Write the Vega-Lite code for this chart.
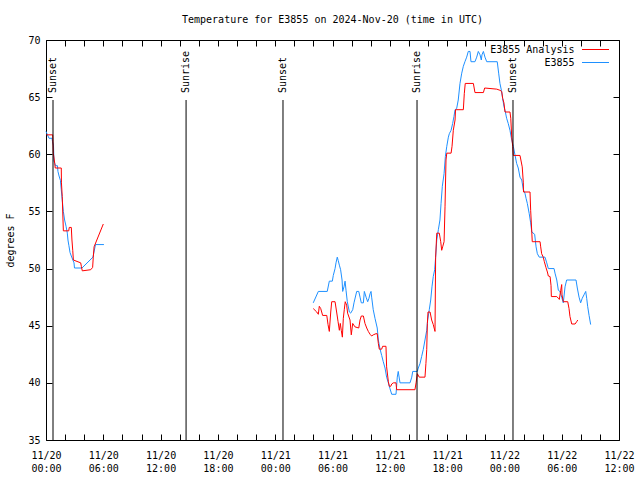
{
  "$schema": "https://vega.github.io/schema/vega-lite/v6.json",
  "width": 573,
  "height": 400,
  "autosize": {"type": "none"},
  "padding": {"left": 46, "top": 40, "right": 21, "bottom": 40},
  "background": "white",
  "title": {"text": "Temperature for E3855 on 2024-Nov-20 (time in UTC)", "font": "DejaVu Sans Mono", "fontSize": 10, "fontWeight": "normal", "color": "black", "offset": 10},
  "config": {
    "view": {"stroke": "black", "strokeWidth": 1},
    "axis": {"domain": false, "grid": false, "tickColor": "black", "tickSize": -6, "tickWidth": 1, "labelFont": "DejaVu Sans Mono", "labelFontSize": 10, "labelColor": "black", "titleFont": "DejaVu Sans Mono", "titleFontSize": 10, "titleFontWeight": "normal", "titleColor": "black"},
    "legend": {"title": null, "symbolType": "M-2.7,0H2.7", "symbolSize": 100, "symbolStrokeWidth": 1, "labelFont": "DejaVu Sans Mono", "labelFontSize": 10, "labelColor": "black", "labelAlign": "right", "labelOffset": -26.5, "rowPadding": 2, "padding": 0}
  },
  "datasets": {
    "temps": [
      {"series": "E3855", "seg": "a", "time": "2024-11-20T00:00Z", "temp": 62.0},
      {"series": "E3855", "seg": "a", "time": "2024-11-20T00:09Z", "temp": 61.7},
      {"series": "E3855", "seg": "a", "time": "2024-11-20T00:19Z", "temp": 61.4},
      {"series": "E3855", "seg": "a", "time": "2024-11-20T00:38Z", "temp": 61.4},
      {"series": "E3855", "seg": "a", "time": "2024-11-20T00:41Z", "temp": 61.1},
      {"series": "E3855", "seg": "a", "time": "2024-11-20T00:47Z", "temp": 60.8},
      {"series": "E3855", "seg": "a", "time": "2024-11-20T00:50Z", "temp": 59.4},
      {"series": "E3855", "seg": "a", "time": "2024-11-20T01:00Z", "temp": 59.0},
      {"series": "E3855", "seg": "a", "time": "2024-11-20T01:12Z", "temp": 59.0},
      {"series": "E3855", "seg": "a", "time": "2024-11-20T01:15Z", "temp": 58.5},
      {"series": "E3855", "seg": "a", "time": "2024-11-20T01:22Z", "temp": 58.1},
      {"series": "E3855", "seg": "a", "time": "2024-11-20T01:31Z", "temp": 57.7},
      {"series": "E3855", "seg": "a", "time": "2024-11-20T01:36Z", "temp": 56.9},
      {"series": "E3855", "seg": "a", "time": "2024-11-20T01:42Z", "temp": 56.0},
      {"series": "E3855", "seg": "a", "time": "2024-11-20T01:49Z", "temp": 55.0},
      {"series": "E3855", "seg": "a", "time": "2024-11-20T01:57Z", "temp": 54.25},
      {"series": "E3855", "seg": "a", "time": "2024-11-20T02:06Z", "temp": 53.7},
      {"series": "E3855", "seg": "a", "time": "2024-11-20T02:14Z", "temp": 53.1},
      {"series": "E3855", "seg": "a", "time": "2024-11-20T02:18Z", "temp": 52.5},
      {"series": "E3855", "seg": "a", "time": "2024-11-20T02:24Z", "temp": 52.0},
      {"series": "E3855", "seg": "a", "time": "2024-11-20T02:31Z", "temp": 51.4},
      {"series": "E3855", "seg": "a", "time": "2024-11-20T02:39Z", "temp": 51.1},
      {"series": "E3855", "seg": "a", "time": "2024-11-20T02:56Z", "temp": 50.5},
      {"series": "E3855", "seg": "a", "time": "2024-11-20T02:59Z", "temp": 50.05},
      {"series": "E3855", "seg": "a", "time": "2024-11-20T03:46Z", "temp": 50.05},
      {"series": "E3855", "seg": "a", "time": "2024-11-20T04:55Z", "temp": 51.0},
      {"series": "E3855", "seg": "a", "time": "2024-11-20T05:11Z", "temp": 52.1},
      {"series": "E3855", "seg": "a", "time": "2024-11-20T06:04Z", "temp": 52.1},

      {"series": "E3855 Analysis", "seg": "a", "time": "2024-11-20T00:03Z", "temp": 61.7},
      {"series": "E3855 Analysis", "seg": "a", "time": "2024-11-20T00:42Z", "temp": 61.7},
      {"series": "E3855 Analysis", "seg": "a", "time": "2024-11-20T00:43Z", "temp": 61.25},
      {"series": "E3855 Analysis", "seg": "a", "time": "2024-11-20T00:46Z", "temp": 60.1},
      {"series": "E3855 Analysis", "seg": "a", "time": "2024-11-20T00:55Z", "temp": 59.2},
      {"series": "E3855 Analysis", "seg": "a", "time": "2024-11-20T00:58Z", "temp": 58.8},
      {"series": "E3855 Analysis", "seg": "a", "time": "2024-11-20T01:36Z", "temp": 58.8},
      {"series": "E3855 Analysis", "seg": "a", "time": "2024-11-20T01:37Z", "temp": 57.5},
      {"series": "E3855 Analysis", "seg": "a", "time": "2024-11-20T01:42Z", "temp": 56.3},
      {"series": "E3855 Analysis", "seg": "a", "time": "2024-11-20T01:49Z", "temp": 53.3},
      {"series": "E3855 Analysis", "seg": "a", "time": "2024-11-20T02:23Z", "temp": 53.3},
      {"series": "E3855 Analysis", "seg": "a", "time": "2024-11-20T02:26Z", "temp": 53.6},
      {"series": "E3855 Analysis", "seg": "a", "time": "2024-11-20T02:39Z", "temp": 53.6},
      {"series": "E3855 Analysis", "seg": "a", "time": "2024-11-20T02:43Z", "temp": 52.5},
      {"series": "E3855 Analysis", "seg": "a", "time": "2024-11-20T02:48Z", "temp": 51.6},
      {"series": "E3855 Analysis", "seg": "a", "time": "2024-11-20T02:52Z", "temp": 50.75},
      {"series": "E3855 Analysis", "seg": "a", "time": "2024-11-20T03:38Z", "temp": 50.5},
      {"series": "E3855 Analysis", "seg": "a", "time": "2024-11-20T03:42Z", "temp": 50.2},
      {"series": "E3855 Analysis", "seg": "a", "time": "2024-11-20T03:48Z", "temp": 49.8},
      {"series": "E3855 Analysis", "seg": "a", "time": "2024-11-20T04:41Z", "temp": 49.9},
      {"series": "E3855 Analysis", "seg": "a", "time": "2024-11-20T04:53Z", "temp": 50.1},
      {"series": "E3855 Analysis", "seg": "a", "time": "2024-11-20T04:57Z", "temp": 51.0},
      {"series": "E3855 Analysis", "seg": "a", "time": "2024-11-20T05:02Z", "temp": 51.9},
      {"series": "E3855 Analysis", "seg": "a", "time": "2024-11-20T06:00Z", "temp": 53.9},

      {"series": "E3855", "seg": "b", "time": "2024-11-21T03:59Z", "temp": 47.0},
      {"series": "E3855", "seg": "b", "time": "2024-11-21T04:31Z", "temp": 48.0},
      {"series": "E3855", "seg": "b", "time": "2024-11-21T05:27Z", "temp": 48.0},
      {"series": "E3855", "seg": "b", "time": "2024-11-21T05:40Z", "temp": 48.9},
      {"series": "E3855", "seg": "b", "time": "2024-11-21T05:59Z", "temp": 48.9},
      {"series": "E3855", "seg": "b", "time": "2024-11-21T06:05Z", "temp": 49.4},
      {"series": "E3855", "seg": "b", "time": "2024-11-21T06:16Z", "temp": 50.0},
      {"series": "E3855", "seg": "b", "time": "2024-11-21T06:22Z", "temp": 50.5},
      {"series": "E3855", "seg": "b", "time": "2024-11-21T06:30Z", "temp": 51.0},
      {"series": "E3855", "seg": "b", "time": "2024-11-21T06:36Z", "temp": 50.7},
      {"series": "E3855", "seg": "b", "time": "2024-11-21T06:43Z", "temp": 50.3},
      {"series": "E3855", "seg": "b", "time": "2024-11-21T06:51Z", "temp": 49.9},
      {"series": "E3855", "seg": "b", "time": "2024-11-21T07:00Z", "temp": 49.0},
      {"series": "E3855", "seg": "b", "time": "2024-11-21T07:04Z", "temp": 48.0},
      {"series": "E3855", "seg": "b", "time": "2024-11-21T07:12Z", "temp": 48.4},
      {"series": "E3855", "seg": "b", "time": "2024-11-21T07:19Z", "temp": 48.9},
      {"series": "E3855", "seg": "b", "time": "2024-11-21T07:25Z", "temp": 48.1},
      {"series": "E3855", "seg": "b", "time": "2024-11-21T07:33Z", "temp": 47.1},
      {"series": "E3855", "seg": "b", "time": "2024-11-21T07:46Z", "temp": 46.2},
      {"series": "E3855", "seg": "b", "time": "2024-11-21T07:54Z", "temp": 46.1},
      {"series": "E3855", "seg": "b", "time": "2024-11-21T08:07Z", "temp": 46.4},
      {"series": "E3855", "seg": "b", "time": "2024-11-21T08:15Z", "temp": 47.0},
      {"series": "E3855", "seg": "b", "time": "2024-11-21T08:32Z", "temp": 48.0},
      {"series": "E3855", "seg": "b", "time": "2024-11-21T08:45Z", "temp": 48.0},
      {"series": "E3855", "seg": "b", "time": "2024-11-21T08:53Z", "temp": 47.5},
      {"series": "E3855", "seg": "b", "time": "2024-11-21T09:01Z", "temp": 47.0},
      {"series": "E3855", "seg": "b", "time": "2024-11-21T09:14Z", "temp": 47.0},
      {"series": "E3855", "seg": "b", "time": "2024-11-21T09:20Z", "temp": 48.0},
      {"series": "E3855", "seg": "b", "time": "2024-11-21T09:31Z", "temp": 47.5},
      {"series": "E3855", "seg": "b", "time": "2024-11-21T09:41Z", "temp": 47.1},
      {"series": "E3855", "seg": "b", "time": "2024-11-21T09:49Z", "temp": 47.4},
      {"series": "E3855", "seg": "b", "time": "2024-11-21T09:56Z", "temp": 47.8},
      {"series": "E3855", "seg": "b", "time": "2024-11-21T10:02Z", "temp": 48.0},
      {"series": "E3855", "seg": "b", "time": "2024-11-21T10:06Z", "temp": 47.5},
      {"series": "E3855", "seg": "b", "time": "2024-11-21T10:16Z", "temp": 46.4},
      {"series": "E3855", "seg": "b", "time": "2024-11-21T10:27Z", "temp": 45.65},
      {"series": "E3855", "seg": "b", "time": "2024-11-21T10:41Z", "temp": 44.8},
      {"series": "E3855", "seg": "b", "time": "2024-11-21T10:48Z", "temp": 43.75},
      {"series": "E3855", "seg": "b", "time": "2024-11-21T10:58Z", "temp": 43.0},
      {"series": "E3855", "seg": "b", "time": "2024-11-21T11:09Z", "temp": 42.4},
      {"series": "E3855", "seg": "b", "time": "2024-11-21T11:19Z", "temp": 41.85},
      {"series": "E3855", "seg": "b", "time": "2024-11-21T11:30Z", "temp": 41.3},
      {"series": "E3855", "seg": "b", "time": "2024-11-21T11:40Z", "temp": 40.5},
      {"series": "E3855", "seg": "b", "time": "2024-11-21T11:51Z", "temp": 40.0},
      {"series": "E3855", "seg": "b", "time": "2024-11-21T12:01Z", "temp": 39.5},
      {"series": "E3855", "seg": "b", "time": "2024-11-21T12:12Z", "temp": 39.0},
      {"series": "E3855", "seg": "b", "time": "2024-11-21T12:39Z", "temp": 39.0},
      {"series": "E3855", "seg": "b", "time": "2024-11-21T12:47Z", "temp": 40.5},
      {"series": "E3855", "seg": "b", "time": "2024-11-21T12:53Z", "temp": 41.0},
      {"series": "E3855", "seg": "b", "time": "2024-11-21T13:04Z", "temp": 40.0},
      {"series": "E3855", "seg": "b", "time": "2024-11-21T14:07Z", "temp": 40.0},
      {"series": "E3855", "seg": "b", "time": "2024-11-21T14:18Z", "temp": 40.5},
      {"series": "E3855", "seg": "b", "time": "2024-11-21T14:24Z", "temp": 41.0},
      {"series": "E3855", "seg": "b", "time": "2024-11-21T14:53Z", "temp": 41.0},
      {"series": "E3855", "seg": "b", "time": "2024-11-21T14:59Z", "temp": 41.3},
      {"series": "E3855", "seg": "b", "time": "2024-11-21T15:10Z", "temp": 41.7},
      {"series": "E3855", "seg": "b", "time": "2024-11-21T15:20Z", "temp": 42.3},
      {"series": "E3855", "seg": "b", "time": "2024-11-21T15:30Z", "temp": 42.9},
      {"series": "E3855", "seg": "b", "time": "2024-11-21T15:41Z", "temp": 43.75},
      {"series": "E3855", "seg": "b", "time": "2024-11-21T15:52Z", "temp": 44.6},
      {"series": "E3855", "seg": "b", "time": "2024-11-21T15:58Z", "temp": 45.5},
      {"series": "E3855", "seg": "b", "time": "2024-11-21T16:08Z", "temp": 46.4},
      {"series": "E3855", "seg": "b", "time": "2024-11-21T16:17Z", "temp": 47.25},
      {"series": "E3855", "seg": "b", "time": "2024-11-21T16:25Z", "temp": 48.4},
      {"series": "E3855", "seg": "b", "time": "2024-11-21T16:33Z", "temp": 49.3},
      {"series": "E3855", "seg": "b", "time": "2024-11-21T16:42Z", "temp": 49.9},
      {"series": "E3855", "seg": "b", "time": "2024-11-21T16:48Z", "temp": 51.0},
      {"series": "E3855", "seg": "b", "time": "2024-11-21T16:55Z", "temp": 52.5},
      {"series": "E3855", "seg": "b", "time": "2024-11-21T17:05Z", "temp": 53.4},
      {"series": "E3855", "seg": "b", "time": "2024-11-21T17:15Z", "temp": 54.25},
      {"series": "E3855", "seg": "b", "time": "2024-11-21T17:22Z", "temp": 55.7},
      {"series": "E3855", "seg": "b", "time": "2024-11-21T17:30Z", "temp": 57.2},
      {"series": "E3855", "seg": "b", "time": "2024-11-21T17:41Z", "temp": 58.3},
      {"series": "E3855", "seg": "b", "time": "2024-11-21T17:49Z", "temp": 59.8},
      {"series": "E3855", "seg": "b", "time": "2024-11-21T17:58Z", "temp": 60.7},
      {"series": "E3855", "seg": "b", "time": "2024-11-21T18:08Z", "temp": 61.5},
      {"series": "E3855", "seg": "b", "time": "2024-11-21T18:14Z", "temp": 61.8},
      {"series": "E3855", "seg": "b", "time": "2024-11-21T18:25Z", "temp": 62.1},
      {"series": "E3855", "seg": "b", "time": "2024-11-21T18:35Z", "temp": 62.7},
      {"series": "E3855", "seg": "b", "time": "2024-11-21T18:43Z", "temp": 63.3},
      {"series": "E3855", "seg": "b", "time": "2024-11-21T18:50Z", "temp": 63.9},
      {"series": "E3855", "seg": "b", "time": "2024-11-21T19:00Z", "temp": 64.0},
      {"series": "E3855", "seg": "b", "time": "2024-11-21T19:10Z", "temp": 64.75},
      {"series": "E3855", "seg": "b", "time": "2024-11-21T19:21Z", "temp": 66.2},
      {"series": "E3855", "seg": "b", "time": "2024-11-21T19:32Z", "temp": 67.1},
      {"series": "E3855", "seg": "b", "time": "2024-11-21T19:42Z", "temp": 67.7},
      {"series": "E3855", "seg": "b", "time": "2024-11-21T19:52Z", "temp": 68.1},
      {"series": "E3855", "seg": "b", "time": "2024-11-21T20:03Z", "temp": 68.5},
      {"series": "E3855", "seg": "b", "time": "2024-11-21T20:13Z", "temp": 69.0},
      {"series": "E3855", "seg": "b", "time": "2024-11-21T20:24Z", "temp": 69.0},
      {"series": "E3855", "seg": "b", "time": "2024-11-21T20:30Z", "temp": 68.1},
      {"series": "E3855", "seg": "b", "time": "2024-11-21T20:55Z", "temp": 68.1},
      {"series": "E3855", "seg": "b", "time": "2024-11-21T21:06Z", "temp": 68.5},
      {"series": "E3855", "seg": "b", "time": "2024-11-21T21:16Z", "temp": 69.0},
      {"series": "E3855", "seg": "b", "time": "2024-11-21T21:27Z", "temp": 68.7},
      {"series": "E3855", "seg": "b", "time": "2024-11-21T21:35Z", "temp": 68.25},
      {"series": "E3855", "seg": "b", "time": "2024-11-21T21:39Z", "temp": 68.7},
      {"series": "E3855", "seg": "b", "time": "2024-11-21T21:48Z", "temp": 69.0},
      {"series": "E3855", "seg": "b", "time": "2024-11-21T21:58Z", "temp": 68.5},
      {"series": "E3855", "seg": "b", "time": "2024-11-21T22:09Z", "temp": 68.1},
      {"series": "E3855", "seg": "b", "time": "2024-11-21T23:15Z", "temp": 68.1},
      {"series": "E3855", "seg": "b", "time": "2024-11-21T23:24Z", "temp": 67.1},
      {"series": "E3855", "seg": "b", "time": "2024-11-21T23:32Z", "temp": 66.2},
      {"series": "E3855", "seg": "b", "time": "2024-11-21T23:41Z", "temp": 65.6},
      {"series": "E3855", "seg": "b", "time": "2024-11-21T23:49Z", "temp": 64.9},
      {"series": "E3855", "seg": "b", "time": "2024-11-21T23:57Z", "temp": 64.2},
      {"series": "E3855", "seg": "b", "time": "2024-11-22T00:06Z", "temp": 63.7},
      {"series": "E3855", "seg": "b", "time": "2024-11-22T00:14Z", "temp": 63.15},
      {"series": "E3855", "seg": "b", "time": "2024-11-22T00:24Z", "temp": 62.7},
      {"series": "E3855", "seg": "b", "time": "2024-11-22T00:35Z", "temp": 62.1},
      {"series": "E3855", "seg": "b", "time": "2024-11-22T00:46Z", "temp": 61.25},
      {"series": "E3855", "seg": "b", "time": "2024-11-22T00:56Z", "temp": 60.7},
      {"series": "E3855", "seg": "b", "time": "2024-11-22T01:07Z", "temp": 59.9},
      {"series": "E3855", "seg": "b", "time": "2024-11-22T01:17Z", "temp": 59.2},
      {"series": "E3855", "seg": "b", "time": "2024-11-22T01:27Z", "temp": 58.8},
      {"series": "E3855", "seg": "b", "time": "2024-11-22T01:38Z", "temp": 58.0},
      {"series": "E3855", "seg": "b", "time": "2024-11-22T01:49Z", "temp": 57.75},
      {"series": "E3855", "seg": "b", "time": "2024-11-22T01:59Z", "temp": 56.9},
      {"series": "E3855", "seg": "b", "time": "2024-11-22T02:09Z", "temp": 56.6},
      {"series": "E3855", "seg": "b", "time": "2024-11-22T02:16Z", "temp": 56.15},
      {"series": "E3855", "seg": "b", "time": "2024-11-22T02:24Z", "temp": 55.7},
      {"series": "E3855", "seg": "b", "time": "2024-11-22T02:36Z", "temp": 54.8},
      {"series": "E3855", "seg": "b", "time": "2024-11-22T02:45Z", "temp": 54.0},
      {"series": "E3855", "seg": "b", "time": "2024-11-22T02:52Z", "temp": 53.2},
      {"series": "E3855", "seg": "b", "time": "2024-11-22T03:10Z", "temp": 53.0},
      {"series": "E3855", "seg": "b", "time": "2024-11-22T03:19Z", "temp": 51.9},
      {"series": "E3855", "seg": "b", "time": "2024-11-22T03:27Z", "temp": 51.3},
      {"series": "E3855", "seg": "b", "time": "2024-11-22T03:39Z", "temp": 51.0},
      {"series": "E3855", "seg": "b", "time": "2024-11-22T04:15Z", "temp": 51.0},
      {"series": "E3855", "seg": "b", "time": "2024-11-22T04:26Z", "temp": 50.5},
      {"series": "E3855", "seg": "b", "time": "2024-11-22T04:36Z", "temp": 50.0},
      {"series": "E3855", "seg": "b", "time": "2024-11-22T05:12Z", "temp": 50.0},
      {"series": "E3855", "seg": "b", "time": "2024-11-22T05:18Z", "temp": 49.6},
      {"series": "E3855", "seg": "b", "time": "2024-11-22T05:29Z", "temp": 49.0},
      {"series": "E3855", "seg": "b", "time": "2024-11-22T05:39Z", "temp": 48.1},
      {"series": "E3855", "seg": "b", "time": "2024-11-22T05:49Z", "temp": 48.0},
      {"series": "E3855", "seg": "b", "time": "2024-11-22T06:00Z", "temp": 47.5},
      {"series": "E3855", "seg": "b", "time": "2024-11-22T06:10Z", "temp": 47.0},
      {"series": "E3855", "seg": "b", "time": "2024-11-22T06:21Z", "temp": 48.4},
      {"series": "E3855", "seg": "b", "time": "2024-11-22T06:31Z", "temp": 49.0},
      {"series": "E3855", "seg": "b", "time": "2024-11-22T07:30Z", "temp": 49.0},
      {"series": "E3855", "seg": "b", "time": "2024-11-22T07:38Z", "temp": 48.3},
      {"series": "E3855", "seg": "b", "time": "2024-11-22T07:49Z", "temp": 47.5},
      {"series": "E3855", "seg": "b", "time": "2024-11-22T07:59Z", "temp": 47.0},
      {"series": "E3855", "seg": "b", "time": "2024-11-22T08:09Z", "temp": 47.4},
      {"series": "E3855", "seg": "b", "time": "2024-11-22T08:20Z", "temp": 47.7},
      {"series": "E3855", "seg": "b", "time": "2024-11-22T08:31Z", "temp": 48.0},
      {"series": "E3855", "seg": "b", "time": "2024-11-22T08:37Z", "temp": 47.4},
      {"series": "E3855", "seg": "b", "time": "2024-11-22T08:43Z", "temp": 46.7},
      {"series": "E3855", "seg": "b", "time": "2024-11-22T08:52Z", "temp": 45.9},
      {"series": "E3855", "seg": "b", "time": "2024-11-22T09:02Z", "temp": 45.1},

      {"series": "E3855 Analysis", "seg": "b", "time": "2024-11-21T03:59Z", "temp": 46.5},
      {"series": "E3855 Analysis", "seg": "b", "time": "2024-11-21T04:21Z", "temp": 46.2},
      {"series": "E3855 Analysis", "seg": "b", "time": "2024-11-21T04:31Z", "temp": 46.0},
      {"series": "E3855 Analysis", "seg": "b", "time": "2024-11-21T04:37Z", "temp": 46.7},
      {"series": "E3855 Analysis", "seg": "b", "time": "2024-11-21T04:46Z", "temp": 46.5},
      {"series": "E3855 Analysis", "seg": "b", "time": "2024-11-21T04:58Z", "temp": 45.9},
      {"series": "E3855 Analysis", "seg": "b", "time": "2024-11-21T05:24Z", "temp": 45.9},
      {"series": "E3855 Analysis", "seg": "b", "time": "2024-11-21T05:32Z", "temp": 45.1},
      {"series": "E3855 Analysis", "seg": "b", "time": "2024-11-21T05:40Z", "temp": 44.5},
      {"series": "E3855 Analysis", "seg": "b", "time": "2024-11-21T05:49Z", "temp": 46.2},
      {"series": "E3855 Analysis", "seg": "b", "time": "2024-11-21T05:55Z", "temp": 47.1},
      {"series": "E3855 Analysis", "seg": "b", "time": "2024-11-21T06:16Z", "temp": 47.1},
      {"series": "E3855 Analysis", "seg": "b", "time": "2024-11-21T06:26Z", "temp": 46.2},
      {"series": "E3855 Analysis", "seg": "b", "time": "2024-11-21T06:35Z", "temp": 45.35},
      {"series": "E3855 Analysis", "seg": "b", "time": "2024-11-21T06:43Z", "temp": 44.6},
      {"series": "E3855 Analysis", "seg": "b", "time": "2024-11-21T06:49Z", "temp": 45.2},
      {"series": "E3855 Analysis", "seg": "b", "time": "2024-11-21T06:55Z", "temp": 44.6},
      {"series": "E3855 Analysis", "seg": "b", "time": "2024-11-21T07:02Z", "temp": 44.0},
      {"series": "E3855 Analysis", "seg": "b", "time": "2024-11-21T07:08Z", "temp": 45.65},
      {"series": "E3855 Analysis", "seg": "b", "time": "2024-11-21T07:14Z", "temp": 46.4},
      {"series": "E3855 Analysis", "seg": "b", "time": "2024-11-21T07:20Z", "temp": 47.1},
      {"series": "E3855 Analysis", "seg": "b", "time": "2024-11-21T07:29Z", "temp": 46.8},
      {"series": "E3855 Analysis", "seg": "b", "time": "2024-11-21T07:35Z", "temp": 46.1},
      {"series": "E3855 Analysis", "seg": "b", "time": "2024-11-21T07:50Z", "temp": 45.5},
      {"series": "E3855 Analysis", "seg": "b", "time": "2024-11-21T07:58Z", "temp": 44.2},
      {"series": "E3855 Analysis", "seg": "b", "time": "2024-11-21T08:07Z", "temp": 45.2},
      {"series": "E3855 Analysis", "seg": "b", "time": "2024-11-21T08:21Z", "temp": 44.9},
      {"series": "E3855 Analysis", "seg": "b", "time": "2024-11-21T08:45Z", "temp": 44.8},
      {"series": "E3855 Analysis", "seg": "b", "time": "2024-11-21T08:53Z", "temp": 45.5},
      {"series": "E3855 Analysis", "seg": "b", "time": "2024-11-21T09:01Z", "temp": 45.85},
      {"series": "E3855 Analysis", "seg": "b", "time": "2024-11-21T09:14Z", "temp": 45.85},
      {"series": "E3855 Analysis", "seg": "b", "time": "2024-11-21T09:24Z", "temp": 45.2},
      {"series": "E3855 Analysis", "seg": "b", "time": "2024-11-21T09:35Z", "temp": 44.8},
      {"series": "E3855 Analysis", "seg": "b", "time": "2024-11-21T09:45Z", "temp": 44.5},
      {"series": "E3855 Analysis", "seg": "b", "time": "2024-11-21T09:56Z", "temp": 44.25},
      {"series": "E3855 Analysis", "seg": "b", "time": "2024-11-21T10:06Z", "temp": 44.1},
      {"series": "E3855 Analysis", "seg": "b", "time": "2024-11-21T10:16Z", "temp": 44.2},
      {"series": "E3855 Analysis", "seg": "b", "time": "2024-11-21T10:33Z", "temp": 44.3},
      {"series": "E3855 Analysis", "seg": "b", "time": "2024-11-21T10:41Z", "temp": 44.3},
      {"series": "E3855 Analysis", "seg": "b", "time": "2024-11-21T10:48Z", "temp": 43.45},
      {"series": "E3855 Analysis", "seg": "b", "time": "2024-11-21T10:54Z", "temp": 42.95},
      {"series": "E3855 Analysis", "seg": "b", "time": "2024-11-21T11:09Z", "temp": 42.95},
      {"series": "E3855 Analysis", "seg": "b", "time": "2024-11-21T11:15Z", "temp": 43.2},
      {"series": "E3855 Analysis", "seg": "b", "time": "2024-11-21T11:36Z", "temp": 43.2},
      {"series": "E3855 Analysis", "seg": "b", "time": "2024-11-21T11:40Z", "temp": 41.4},
      {"series": "E3855 Analysis", "seg": "b", "time": "2024-11-21T11:51Z", "temp": 40.1},
      {"series": "E3855 Analysis", "seg": "b", "time": "2024-11-21T11:57Z", "temp": 39.7},
      {"series": "E3855 Analysis", "seg": "b", "time": "2024-11-21T12:06Z", "temp": 39.7},
      {"series": "E3855 Analysis", "seg": "b", "time": "2024-11-21T12:12Z", "temp": 39.9},
      {"series": "E3855 Analysis", "seg": "b", "time": "2024-11-21T12:22Z", "temp": 40.0},
      {"series": "E3855 Analysis", "seg": "b", "time": "2024-11-21T12:39Z", "temp": 40.0},
      {"series": "E3855 Analysis", "seg": "b", "time": "2024-11-21T12:43Z", "temp": 39.4},
      {"series": "E3855 Analysis", "seg": "b", "time": "2024-11-21T14:38Z", "temp": 39.4},
      {"series": "E3855 Analysis", "seg": "b", "time": "2024-11-21T14:45Z", "temp": 40.0},
      {"series": "E3855 Analysis", "seg": "b", "time": "2024-11-21T14:53Z", "temp": 40.8},
      {"series": "E3855 Analysis", "seg": "b", "time": "2024-11-21T15:05Z", "temp": 40.5},
      {"series": "E3855 Analysis", "seg": "b", "time": "2024-11-21T15:41Z", "temp": 40.5},
      {"series": "E3855 Analysis", "seg": "b", "time": "2024-11-21T15:47Z", "temp": 41.7},
      {"series": "E3855 Analysis", "seg": "b", "time": "2024-11-21T15:52Z", "temp": 42.9},
      {"series": "E3855 Analysis", "seg": "b", "time": "2024-11-21T15:56Z", "temp": 45.2},
      {"series": "E3855 Analysis", "seg": "b", "time": "2024-11-21T16:00Z", "temp": 46.2},
      {"series": "E3855 Analysis", "seg": "b", "time": "2024-11-21T16:13Z", "temp": 46.2},
      {"series": "E3855 Analysis", "seg": "b", "time": "2024-11-21T16:23Z", "temp": 45.5},
      {"series": "E3855 Analysis", "seg": "b", "time": "2024-11-21T16:33Z", "temp": 45.1},
      {"series": "E3855 Analysis", "seg": "b", "time": "2024-11-21T16:44Z", "temp": 44.5},
      {"series": "E3855 Analysis", "seg": "b", "time": "2024-11-21T16:48Z", "temp": 51.0},
      {"series": "E3855 Analysis", "seg": "b", "time": "2024-11-21T16:55Z", "temp": 53.1},
      {"series": "E3855 Analysis", "seg": "b", "time": "2024-11-21T17:11Z", "temp": 53.1},
      {"series": "E3855 Analysis", "seg": "b", "time": "2024-11-21T17:20Z", "temp": 52.35},
      {"series": "E3855 Analysis", "seg": "b", "time": "2024-11-21T17:26Z", "temp": 51.6},
      {"series": "E3855 Analysis", "seg": "b", "time": "2024-11-21T17:32Z", "temp": 51.9},
      {"series": "E3855 Analysis", "seg": "b", "time": "2024-11-21T17:41Z", "temp": 52.35},
      {"series": "E3855 Analysis", "seg": "b", "time": "2024-11-21T17:47Z", "temp": 55.4},
      {"series": "E3855 Analysis", "seg": "b", "time": "2024-11-21T17:53Z", "temp": 59.5},
      {"series": "E3855 Analysis", "seg": "b", "time": "2024-11-21T17:58Z", "temp": 60.1},
      {"series": "E3855 Analysis", "seg": "b", "time": "2024-11-21T18:25Z", "temp": 60.1},
      {"series": "E3855 Analysis", "seg": "b", "time": "2024-11-21T18:31Z", "temp": 60.7},
      {"series": "E3855 Analysis", "seg": "b", "time": "2024-11-21T18:39Z", "temp": 62.1},
      {"series": "E3855 Analysis", "seg": "b", "time": "2024-11-21T18:50Z", "temp": 63.0},
      {"series": "E3855 Analysis", "seg": "b", "time": "2024-11-21T18:53Z", "temp": 63.9},
      {"series": "E3855 Analysis", "seg": "b", "time": "2024-11-21T19:42Z", "temp": 63.9},
      {"series": "E3855 Analysis", "seg": "b", "time": "2024-11-21T19:48Z", "temp": 65.3},
      {"series": "E3855 Analysis", "seg": "b", "time": "2024-11-21T19:54Z", "temp": 66.2},
      {"series": "E3855 Analysis", "seg": "b", "time": "2024-11-21T20:45Z", "temp": 66.2},
      {"series": "E3855 Analysis", "seg": "b", "time": "2024-11-21T20:55Z", "temp": 65.4},
      {"series": "E3855 Analysis", "seg": "b", "time": "2024-11-21T21:48Z", "temp": 65.4},
      {"series": "E3855 Analysis", "seg": "b", "time": "2024-11-21T21:56Z", "temp": 65.8},
      {"series": "E3855 Analysis", "seg": "b", "time": "2024-11-21T23:12Z", "temp": 65.7},
      {"series": "E3855 Analysis", "seg": "b", "time": "2024-11-21T23:32Z", "temp": 65.6},
      {"series": "E3855 Analysis", "seg": "b", "time": "2024-11-21T23:43Z", "temp": 65.5},
      {"series": "E3855 Analysis", "seg": "b", "time": "2024-11-21T23:49Z", "temp": 64.9},
      {"series": "E3855 Analysis", "seg": "b", "time": "2024-11-21T23:57Z", "temp": 64.5},
      {"series": "E3855 Analysis", "seg": "b", "time": "2024-11-22T00:04Z", "temp": 63.7},
      {"series": "E3855 Analysis", "seg": "b", "time": "2024-11-22T00:35Z", "temp": 63.7},
      {"series": "E3855 Analysis", "seg": "b", "time": "2024-11-22T00:40Z", "temp": 63.15},
      {"series": "E3855 Analysis", "seg": "b", "time": "2024-11-22T00:46Z", "temp": 61.5},
      {"series": "E3855 Analysis", "seg": "b", "time": "2024-11-22T00:52Z", "temp": 60.7},
      {"series": "E3855 Analysis", "seg": "b", "time": "2024-11-22T00:56Z", "temp": 59.9},
      {"series": "E3855 Analysis", "seg": "b", "time": "2024-11-22T01:38Z", "temp": 59.9},
      {"series": "E3855 Analysis", "seg": "b", "time": "2024-11-22T01:52Z", "temp": 58.9},
      {"series": "E3855 Analysis", "seg": "b", "time": "2024-11-22T01:59Z", "temp": 57.5},
      {"series": "E3855 Analysis", "seg": "b", "time": "2024-11-22T02:00Z", "temp": 56.7},
      {"series": "E3855 Analysis", "seg": "b", "time": "2024-11-22T02:41Z", "temp": 56.7},
      {"series": "E3855 Analysis", "seg": "b", "time": "2024-11-22T02:45Z", "temp": 55.1},
      {"series": "E3855 Analysis", "seg": "b", "time": "2024-11-22T02:52Z", "temp": 53.2},
      {"series": "E3855 Analysis", "seg": "b", "time": "2024-11-22T02:55Z", "temp": 52.35},
      {"series": "E3855 Analysis", "seg": "b", "time": "2024-11-22T03:44Z", "temp": 52.35},
      {"series": "E3855 Analysis", "seg": "b", "time": "2024-11-22T03:48Z", "temp": 51.9},
      {"series": "E3855 Analysis", "seg": "b", "time": "2024-11-22T03:54Z", "temp": 51.3},
      {"series": "E3855 Analysis", "seg": "b", "time": "2024-11-22T04:04Z", "temp": 51.0},
      {"series": "E3855 Analysis", "seg": "b", "time": "2024-11-22T04:11Z", "temp": 50.6},
      {"series": "E3855 Analysis", "seg": "b", "time": "2024-11-22T04:21Z", "temp": 50.1},
      {"series": "E3855 Analysis", "seg": "b", "time": "2024-11-22T04:30Z", "temp": 49.7},
      {"series": "E3855 Analysis", "seg": "b", "time": "2024-11-22T04:36Z", "temp": 49.35},
      {"series": "E3855 Analysis", "seg": "b", "time": "2024-11-22T04:47Z", "temp": 49.3},
      {"series": "E3855 Analysis", "seg": "b", "time": "2024-11-22T04:53Z", "temp": 48.5},
      {"series": "E3855 Analysis", "seg": "b", "time": "2024-11-22T04:55Z", "temp": 47.55},
      {"series": "E3855 Analysis", "seg": "b", "time": "2024-11-22T05:29Z", "temp": 47.55},
      {"series": "E3855 Analysis", "seg": "b", "time": "2024-11-22T05:39Z", "temp": 47.4},
      {"series": "E3855 Analysis", "seg": "b", "time": "2024-11-22T05:45Z", "temp": 47.3},
      {"series": "E3855 Analysis", "seg": "b", "time": "2024-11-22T05:54Z", "temp": 48.1},
      {"series": "E3855 Analysis", "seg": "b", "time": "2024-11-22T06:00Z", "temp": 48.6},
      {"series": "E3855 Analysis", "seg": "b", "time": "2024-11-22T06:02Z", "temp": 47.7},
      {"series": "E3855 Analysis", "seg": "b", "time": "2024-11-22T06:10Z", "temp": 47.1},
      {"series": "E3855 Analysis", "seg": "b", "time": "2024-11-22T06:38Z", "temp": 47.1},
      {"series": "E3855 Analysis", "seg": "b", "time": "2024-11-22T06:46Z", "temp": 46.5},
      {"series": "E3855 Analysis", "seg": "b", "time": "2024-11-22T06:52Z", "temp": 45.8},
      {"series": "E3855 Analysis", "seg": "b", "time": "2024-11-22T07:03Z", "temp": 45.15},
      {"series": "E3855 Analysis", "seg": "b", "time": "2024-11-22T07:24Z", "temp": 45.15},
      {"series": "E3855 Analysis", "seg": "b", "time": "2024-11-22T07:34Z", "temp": 45.35},
      {"series": "E3855 Analysis", "seg": "b", "time": "2024-11-22T07:41Z", "temp": 45.5}
    ],
    "sun": [
      {"event": "Sunset", "time": "2024-11-20T00:44Z"},
      {"event": "Sunrise", "time": "2024-11-20T14:40Z"},
      {"event": "Sunset", "time": "2024-11-21T00:49Z"},
      {"event": "Sunrise", "time": "2024-11-21T14:51Z"},
      {"event": "Sunset", "time": "2024-11-22T00:54Z"}
    ]
  },
  "layer": [
    {
      "data": {"name": "temps"},
      "mark": {"type": "line", "strokeWidth": 1, "interpolate": "linear"},
      "encoding": {
        "x": {
          "field": "time", "type": "temporal",
          "scale": {"type": "utc", "domain": [{"year": 2024, "month": 11, "date": 20, "hours": 0, "utc": true}, {"year": 2024, "month": 11, "date": 22, "hours": 12, "utc": true}]},
          "axis": {
            "orient": "bottom", "title": null, "labelPadding": 16, "labelLineHeight": 13, "labelAlign": "center", "labelBaseline": "top",
            "values": [
              {"year": 2024, "month": 11, "date": 20, "hours": 0, "utc": true},
              {"year": 2024, "month": 11, "date": 20, "hours": 2, "utc": true},
              {"year": 2024, "month": 11, "date": 20, "hours": 4, "utc": true},
              {"year": 2024, "month": 11, "date": 20, "hours": 6, "utc": true},
              {"year": 2024, "month": 11, "date": 20, "hours": 8, "utc": true},
              {"year": 2024, "month": 11, "date": 20, "hours": 10, "utc": true},
              {"year": 2024, "month": 11, "date": 20, "hours": 12, "utc": true},
              {"year": 2024, "month": 11, "date": 20, "hours": 14, "utc": true},
              {"year": 2024, "month": 11, "date": 20, "hours": 16, "utc": true},
              {"year": 2024, "month": 11, "date": 20, "hours": 18, "utc": true},
              {"year": 2024, "month": 11, "date": 20, "hours": 20, "utc": true},
              {"year": 2024, "month": 11, "date": 20, "hours": 22, "utc": true},
              {"year": 2024, "month": 11, "date": 21, "hours": 0, "utc": true},
              {"year": 2024, "month": 11, "date": 21, "hours": 2, "utc": true},
              {"year": 2024, "month": 11, "date": 21, "hours": 4, "utc": true},
              {"year": 2024, "month": 11, "date": 21, "hours": 6, "utc": true},
              {"year": 2024, "month": 11, "date": 21, "hours": 8, "utc": true},
              {"year": 2024, "month": 11, "date": 21, "hours": 10, "utc": true},
              {"year": 2024, "month": 11, "date": 21, "hours": 12, "utc": true},
              {"year": 2024, "month": 11, "date": 21, "hours": 14, "utc": true},
              {"year": 2024, "month": 11, "date": 21, "hours": 16, "utc": true},
              {"year": 2024, "month": 11, "date": 21, "hours": 18, "utc": true},
              {"year": 2024, "month": 11, "date": 21, "hours": 20, "utc": true},
              {"year": 2024, "month": 11, "date": 21, "hours": 22, "utc": true},
              {"year": 2024, "month": 11, "date": 22, "hours": 0, "utc": true},
              {"year": 2024, "month": 11, "date": 22, "hours": 2, "utc": true},
              {"year": 2024, "month": 11, "date": 22, "hours": 4, "utc": true},
              {"year": 2024, "month": 11, "date": 22, "hours": 6, "utc": true},
              {"year": 2024, "month": 11, "date": 22, "hours": 8, "utc": true},
              {"year": 2024, "month": 11, "date": 22, "hours": 10, "utc": true},
              {"year": 2024, "month": 11, "date": 22, "hours": 12, "utc": true}
            ],
            "labelExpr": "utchours(datum.value) % 6 === 0 ? [utcFormat(datum.value, '%m/%d'), utcFormat(datum.value, '%H:%M')] : ''",
            "labelFlush": false, "labelOverlap": false,
            "encode": {"ticks": {"update": {"y2": {"signal": "utchours(datum.value) % 6 === 0 ? -6 : -3"}}}}
          }
        },
        "y": {
          "field": "temp", "type": "quantitative",
          "scale": {"domain": [35, 70], "nice": false, "zero": false},
          "axis": {"orient": "left", "title": "degrees F", "values": [35, 40, 45, 50, 55, 60, 65, 70], "labelPadding": 12, "titlePadding": 12, "labelFlush": false}
        },
        "color": {
          "field": "series", "type": "nominal",
          "scale": {"domain": ["E3855 Analysis", "E3855"], "range": ["#ff0000", "#1e90ff"]},
          "legend": {"orient": "none", "legendX": 544, "legendY": 4}
        },
        "detail": {"field": "seg", "type": "nominal"}
      }
    },
    {
      "data": {"name": "sun"},
      "mark": {"type": "rule", "color": "black", "strokeWidth": 1},
      "encoding": {
        "x": {
          "field": "time", "type": "temporal",
          "axis": {
            "orient": "top", "title": null, "labels": false,
            "values": [
              {"year": 2024, "month": 11, "date": 20, "hours": 0, "utc": true},
              {"year": 2024, "month": 11, "date": 20, "hours": 2, "utc": true},
              {"year": 2024, "month": 11, "date": 20, "hours": 4, "utc": true},
              {"year": 2024, "month": 11, "date": 20, "hours": 6, "utc": true},
              {"year": 2024, "month": 11, "date": 20, "hours": 8, "utc": true},
              {"year": 2024, "month": 11, "date": 20, "hours": 10, "utc": true},
              {"year": 2024, "month": 11, "date": 20, "hours": 12, "utc": true},
              {"year": 2024, "month": 11, "date": 20, "hours": 14, "utc": true},
              {"year": 2024, "month": 11, "date": 20, "hours": 16, "utc": true},
              {"year": 2024, "month": 11, "date": 20, "hours": 18, "utc": true},
              {"year": 2024, "month": 11, "date": 20, "hours": 20, "utc": true},
              {"year": 2024, "month": 11, "date": 20, "hours": 22, "utc": true},
              {"year": 2024, "month": 11, "date": 21, "hours": 0, "utc": true},
              {"year": 2024, "month": 11, "date": 21, "hours": 2, "utc": true},
              {"year": 2024, "month": 11, "date": 21, "hours": 4, "utc": true},
              {"year": 2024, "month": 11, "date": 21, "hours": 6, "utc": true},
              {"year": 2024, "month": 11, "date": 21, "hours": 8, "utc": true},
              {"year": 2024, "month": 11, "date": 21, "hours": 10, "utc": true},
              {"year": 2024, "month": 11, "date": 21, "hours": 12, "utc": true},
              {"year": 2024, "month": 11, "date": 21, "hours": 14, "utc": true},
              {"year": 2024, "month": 11, "date": 21, "hours": 16, "utc": true},
              {"year": 2024, "month": 11, "date": 21, "hours": 18, "utc": true},
              {"year": 2024, "month": 11, "date": 21, "hours": 20, "utc": true},
              {"year": 2024, "month": 11, "date": 21, "hours": 22, "utc": true},
              {"year": 2024, "month": 11, "date": 22, "hours": 0, "utc": true},
              {"year": 2024, "month": 11, "date": 22, "hours": 2, "utc": true},
              {"year": 2024, "month": 11, "date": 22, "hours": 4, "utc": true},
              {"year": 2024, "month": 11, "date": 22, "hours": 6, "utc": true},
              {"year": 2024, "month": 11, "date": 22, "hours": 8, "utc": true},
              {"year": 2024, "month": 11, "date": 22, "hours": 10, "utc": true},
              {"year": 2024, "month": 11, "date": 22, "hours": 12, "utc": true}
            ],
            "encode": {"ticks": {"update": {"y2": {"signal": "utchours(datum.value) % 6 === 0 ? 6 : 3"}}}}
          }
        },
        "y": {"datum": 35, "type": "quantitative", "axis": {"orient": "right", "title": null, "labels": false, "values": [35, 40, 45, 50, 55, 60, 65, 70]}},
        "y2": {"datum": 64.75}
      }
    },
    {
      "data": {"name": "sun"},
      "mark": {"type": "text", "angle": 270, "align": "left", "baseline": "middle", "dx": 7, "font": "DejaVu Sans Mono", "fontSize": 10, "color": "black"},
      "encoding": {
        "x": {"field": "time", "type": "temporal", "axis": null},
        "y": {"datum": 64.75, "type": "quantitative", "axis": null},
        "text": {"field": "event"}
      }
    }
  ],
  "resolve": {"axis": {"x": "independent", "y": "independent"}}
}
